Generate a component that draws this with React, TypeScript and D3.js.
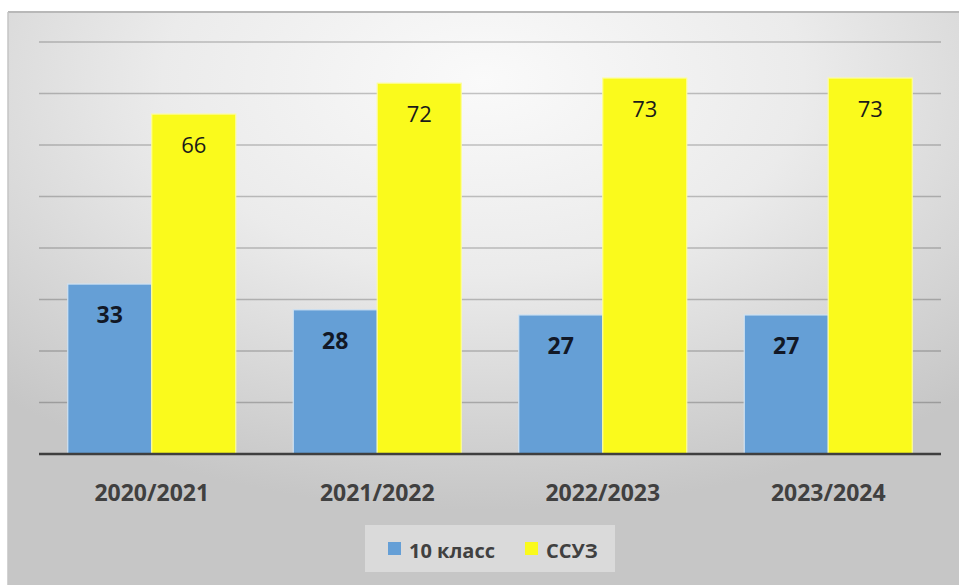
import React from 'react';
import * as d3 from 'd3';

const categories = ['2020/2021', '2021/2022', '2022/2023', '2023/2024'];
const series = ['10 класс', 'ССУЗ'];
const class10 = [33, 28, 27, 27];
const ssuz = [66, 72, 73, 73];
const yTicks = [10, 20, 30, 40, 50, 60, 70, 80];

const colors = ['#659fd6', '#fafa1c'];
const strokes = ['#cfe2f3', '#fdfd9a'];
const font = '"Open Sans", sans-serif';

export default function App() {
  const width = 959;
  const height = 585;
  const left = 39;
  const right = 941;
  const top = 42;
  const bottom = 454;

  const x = d3.scaleBand<string>()
    .domain(categories)
    .range([left, right])
    .paddingInner(0.255)
    .paddingOuter(0.1275);

  const xs = d3.scaleBand<string>()
    .domain(series)
    .range([0, x.bandwidth()]);

  const y = d3.scaleLinear().domain([0, 80]).range([bottom, top]);

  const values = [class10, ssuz];

  return (
    <svg
      width={width}
      height={height}
      style={{ position: 'absolute', left: 0, top: 0 }}
    >
      <defs>
        <radialGradient id="bg" cx="50%" cy="12%" r="75%" fx="50%" fy="12%">
          <stop offset="0%" stopColor="#fafafa" />
          <stop offset="45%" stopColor="#ebebeb" />
          <stop offset="100%" stopColor="#c6c6c6" />
        </radialGradient>
      </defs>

      <rect x={8} y={12} width={width - 8} height={height - 12} fill="url(#bg)" />
      <line x1={8} x2={width} y1={12} y2={12} stroke="#b8b8b8" strokeWidth={2} />
      <line x1={8} x2={8} y1={12} y2={height} stroke="#c4c4c4" strokeWidth={1.5} />

      {/* grid */}
      {yTicks.map(t => (
        <line
          key={t}
          x1={left}
          x2={right}
          y1={y(t)}
          y2={y(t)}
          stroke="#000"
          strokeOpacity={0.22}
          strokeWidth={1.5}
        />
      ))}

      {/* bars */}
      {categories.map((c, i) => (
        <g key={c} transform={`translate(${x(c)},0)`}>
          {series.map((s, k) => {
            const v = values[k][i];
            return (
              <g key={s}>
                <rect
                  x={xs(s)}
                  y={y(v)}
                  width={xs.bandwidth()}
                  height={bottom - y(v)}
                  fill={colors[k]}
                  stroke={strokes[k]}
                  strokeWidth={1.2}
                />
                <text
                  x={(xs(s) || 0) + xs.bandwidth() / 2}
                  y={y(v) + 30}
                  textAnchor="middle"
                  dominantBaseline="central"
                  fontFamily={font}
                  fontSize={k === 0 ? 23 : 22}
                  fontWeight={k === 0 ? 700 : 400}
                  fill={k === 0 ? '#121826' : '#1a1a1a'}
                >
                  {v}
                </text>
              </g>
            );
          })}
        </g>
      ))}

      {/* baseline */}
      <line x1={left} x2={right} y1={bottom} y2={bottom} stroke="#3f3f3f" strokeWidth={2.5} />

      {/* x labels */}
      {categories.map(c => (
        <text
          key={c}
          x={(x(c) || 0) + x.bandwidth() / 2}
          y={492}
          textAnchor="middle"
          dominantBaseline="central"
          fontFamily={font}
          fontSize={23}
          fontWeight={700}
          fill="#404040"
        >
          {c}
        </text>
      ))}

      {/* legend */}
      <rect x={365} y={525} width={250} height={47} fill="#e2e2e2" opacity={0.7} />
      <rect x={388} y={542} width={13} height={13} fill={colors[0]} />
      <text x={409} y={550} dominantBaseline="central" fontFamily={font} fontSize={20} fontWeight={700} fill="#404040">
        {series[0]}
      </text>
      <rect x={525} y={542} width={13} height={13} fill={colors[1]} />
      <text x={546} y={550} dominantBaseline="central" fontFamily={font} fontSize={20} fontWeight={700} fill="#404040">
        {series[1]}
      </text>
    </svg>
  );
}
